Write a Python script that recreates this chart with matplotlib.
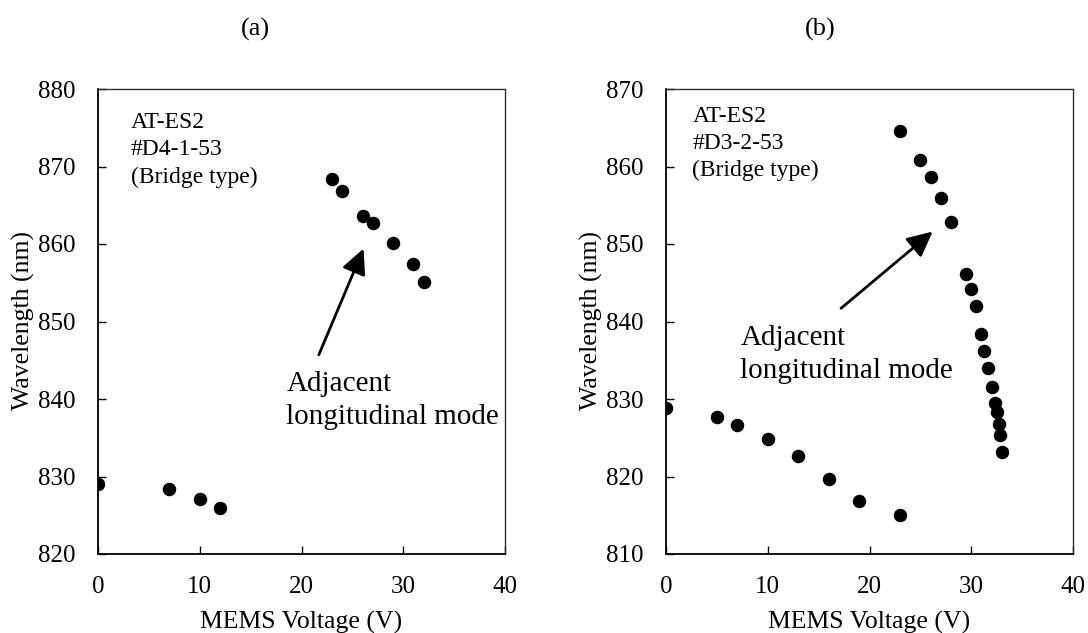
import matplotlib
matplotlib.use("Agg")
import matplotlib.pyplot as plt

plt.rcParams['font.family'] = ['Liberation Serif', 'DejaVu Serif']

# Panel (a): device #D4-1-53
a_voltage = [0, 7, 10, 12, 23, 24, 26, 27, 29, 31, 32]
a_wavelength = [829.0, 828.4, 827.05, 825.9, 868.4, 866.9, 863.6, 862.7, 860.1, 857.4, 855.1]

# Panel (b): device #D3-2-53
b_voltage = [0, 5, 7, 10, 13, 16, 19, 23,
             23, 25, 26, 27, 28, 29.5, 30, 30.5, 31, 31.3, 31.6, 32, 32.3, 32.5, 32.7, 32.8, 33]
b_wavelength = [828.9, 827.7, 826.7, 824.9, 822.7, 819.7, 816.8, 815.05,
                864.6, 860.8, 858.6, 855.9, 852.9, 846.1, 844.2, 842.0, 838.4, 836.2, 834.0,
                831.5, 829.5, 828.3, 826.8, 825.4, 823.1]

x_ticks = [0, 10, 20, 30, 40]
a_y_ticks = [820, 830, 840, 850, 860, 870, 880]
b_y_ticks = [810, 820, 830, 840, 850, 860, 870]

W, H = 1088, 633
fig = plt.figure(figsize=(W / 100, H / 100), dpi=100)

def px_rect(left, right, top, bottom):
    return [left / W, 1 - bottom / H, (right - left) / W, (bottom - top) / H]

ax_a = fig.add_axes(px_rect(98, 505, 89, 554))
ax_b = fig.add_axes(px_rect(666, 1073, 89, 554))

panels = [
    (ax_a, a_voltage, a_wavelength, a_y_ticks, "AT-ES2\n#D4-1-53\n(Bridge type)",
     (3.2, 877.0), (21.7, 845.7), (26.1, 859.4), (18.5, 843.6)),
    (ax_b, b_voltage, b_wavelength, b_y_ticks, "AT-ES2\n#D3-2-53\n(Bridge type)",
     (2.6, 867.8), (17.2, 841.7), (26.2, 851.6), (7.3, 839.5)),
]

for ax, xv, yv, yt, info, info_xy, tail, head, note_xy in panels:
    ax.plot(xv, yv, linestyle='none', marker='o', markersize=8.7, color='black')
    ax.set_xlim(0, 40)
    ax.set_ylim(yt[0], yt[-1])
    ax.set_xticks(x_ticks)
    ax.set_yticks(yt)
    ax.tick_params(direction='in', length=6, width=1, pad=16, labelsize=18,
                   colors='black')
    for side in ['left', 'bottom']:
        ax.spines[side].set_linewidth(1.3)
    for side in ['top', 'right']:
        ax.spines[side].set_linewidth(1.0)
        ax.spines[side].set_color('#333333')
    ax.text(info_xy[0], info_xy[1], info, ha='left', va='top', fontsize=17,
            linespacing=1.38)
    ax.annotate('', xy=head, xytext=tail,
                arrowprops=dict(arrowstyle='-|>,head_length=0.45,head_width=0.22',
                                mutation_scale=34, lw=2, color='black',
                                shrinkA=0, shrinkB=0))
    ax.text(note_xy[0], note_xy[1], "Adjacent\nlongitudinal mode", ha='left', va='top',
            fontsize=21, linespacing=1.33)

# Panel tags and axis labels
for tag, tag_x in [("(a)", 255), ("(b)", 820)]:
    fig.text(tag_x / W, 1 - 29 / H, tag, ha='center', va='center', fontsize=19)

for cx in [301.5, 869.5]:
    fig.text(cx / W, 1 - 629 / H, "MEMS Voltage (V)", ha='center', va='baseline',
             fontsize=18.5)
for lx in [23, 591]:
    fig.text(lx / W, 1 - 321 / H, "Wavelength (nm)", ha='center', va='center',
             rotation=90, fontsize=18.5)

fig.savefig("out.png", dpi=100)
